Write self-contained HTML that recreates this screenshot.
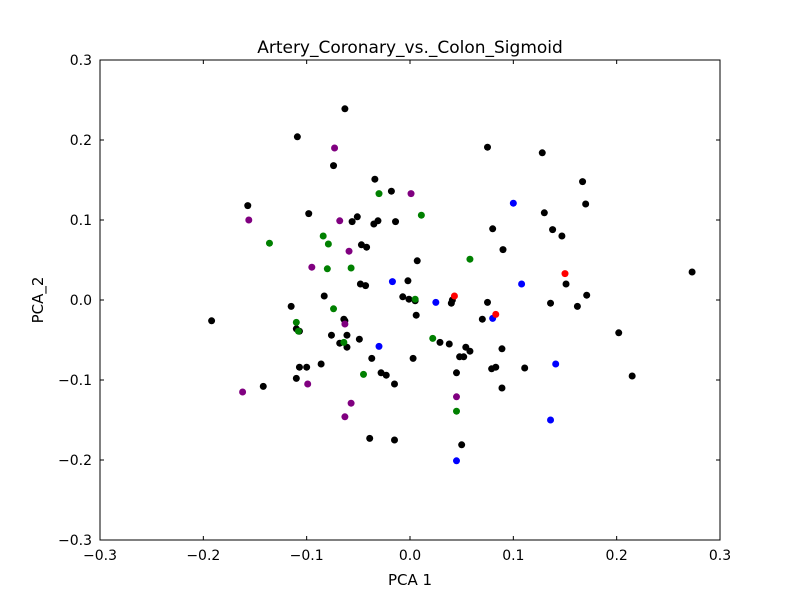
<!DOCTYPE html>
<html><head><meta charset="utf-8"><style>
body{margin:0;background:#fff;}
svg text{font-family:"DejaVu Sans","Liberation Sans",sans-serif;}
</style></head><body>
<svg id="chart" width="800" height="600" xmlns="http://www.w3.org/2000/svg"></svg>
<script>
const xTicks=[-0.3,-0.2,-0.1,0.0,0.1,0.2,0.3];
const yTicks=[-0.3,-0.2,-0.1,0.0,0.1,0.2,0.3];
const blackX=[-0.063,-0.109,-0.074,0.075,0.128,-0.034,0.167,-0.157,-0.098,-0.018,-0.056,-0.051,-0.035,-0.031,-0.014,0.130,0.138,0.147,0.170,0.080,-0.047,-0.042,0.007,0.090,-0.002,0.273,0.151,-0.048,-0.043,-0.083,-0.007,-0.001,0.005,0.041,0.040,0.075,0.136,0.162,0.171,-0.115,-0.110,-0.107,-0.064,-0.076,-0.063,-0.061,-0.049,-0.061,-0.068,0.006,0.070,0.029,0.038,0.054,0.058,0.089,0.083,0.048,0.052,0.003,-0.037,-0.107,-0.100,-0.086,-0.028,-0.023,-0.015,0.045,0.079,0.111,0.202,0.215,-0.110,-0.142,0.089,-0.192,-0.039,-0.015,0.050];
const blackY=[0.239,0.204,0.168,0.191,0.184,0.151,0.148,0.118,0.108,0.136,0.098,0.104,0.095,0.099,0.098,0.109,0.088,0.080,0.120,0.089,0.069,0.066,0.049,0.063,0.024,0.035,0.020,0.020,0.018,0.005,0.004,0.001,-0.001,0.000,-0.004,-0.003,-0.004,-0.008,0.006,-0.008,-0.036,-0.039,-0.024,-0.044,-0.026,-0.044,-0.049,-0.059,-0.054,-0.019,-0.024,-0.053,-0.055,-0.059,-0.064,-0.061,-0.084,-0.071,-0.071,-0.073,-0.073,-0.084,-0.084,-0.080,-0.091,-0.094,-0.105,-0.091,-0.086,-0.085,-0.041,-0.095,-0.098,-0.108,-0.110,-0.026,-0.173,-0.175,-0.181];
const greenX=[-0.136,-0.084,-0.079,-0.030,0.011,0.058,-0.057,-0.080,-0.074,0.005,-0.110,-0.108,0.022,-0.064,-0.045,0.045];
const greenY=[0.071,0.080,0.070,0.133,0.106,0.051,0.040,0.039,-0.011,0.001,-0.028,-0.039,-0.048,-0.053,-0.093,-0.139];
const purpleX=[-0.073,0.001,-0.156,-0.068,-0.059,-0.095,-0.063,-0.099,-0.162,-0.057,-0.063,0.045];
const purpleY=[0.190,0.133,0.100,0.099,0.061,0.041,-0.030,-0.105,-0.115,-0.129,-0.146,-0.121];
const blueX=[0.100,-0.017,0.025,0.108,0.080,-0.030,0.141,0.136,0.045];
const blueY=[0.121,0.023,-0.003,0.020,-0.023,-0.058,-0.080,-0.150,-0.201];
const redX=[0.150,0.043,0.083];
const redY=[0.033,0.005,-0.018];

const svg=document.getElementById('chart');
const NS='http://www.w3.org/2000/svg';
const L=100,R=720,T=60,B=540;
const sx=v=>L+(v+0.3)/0.6*(R-L);
const sy=v=>B-(v+0.3)/0.6*(B-T);
function mk(tag,attrs){const e=document.createElementNS(NS,tag);for(const k in attrs)e.setAttribute(k,attrs[k]);svg.appendChild(e);return e;}
function fmt(v){return v.toFixed(1).replace('-','\u2212');}

xTicks.forEach(v=>{
  const x=sx(v);
  const t1=mk('line',{x1:x,x2:x,y1:B,y2:B-4,stroke:'#000'});
  
  
  const t2=mk('line',{x1:x,x2:x,y1:T,y2:T+4,stroke:'#000'});
  
  
  const tx=mk('text',{x:x,y:B+20,'text-anchor':'middle','font-size':14});
  tx.textContent=fmt(v);
  
  
});
yTicks.forEach(v=>{
  const y=sy(v);
  const t1=mk('line',{x1:L,x2:L+4,y1:y,y2:y,stroke:'#000'});
  
  
  const t2=mk('line',{x1:R,x2:R-4,y1:y,y2:y,stroke:'#000'});
  
  
  const tx=mk('text',{x:L-8,y:y+5,'text-anchor':'end','font-size':14});
  tx.textContent=fmt(v);
  
  
});

function series(xs,ys,color,name){
  xs.forEach((v,i)=>{
    const c=mk('circle',{cx:sx(v),cy:sy(ys[i]),r:3.5,fill:color});
    
    
  });
}
series(blackX,blackY,'#000','point-black');
series(greenX,greenY,'#008000','point-green');
series(purpleX,purpleY,'#800080','point-purple');
series(blueX,blueY,'#0000ff','point-blue');
series(redX,redY,'#ff0000','point-red');

const frame=mk('rect',{x:L,y:T,width:R-L,height:B-T,fill:'none',stroke:'#000','stroke-width':1});


const title=mk('text',{x:(L+R)/2,y:T-7,'text-anchor':'middle','font-size':17});
title.textContent='Artery_Coronary_vs._Colon_Sigmoid';


const xl=mk('text',{x:(L+R)/2,y:585,'text-anchor':'middle','font-size':15});
xl.textContent='PCA 1';


const yl=mk('text',{x:43,y:(T+B)/2,'text-anchor':'middle','font-size':15,transform:'rotate(-90 43 300)'});
yl.textContent='PCA_2';


</script>
</body></html>
